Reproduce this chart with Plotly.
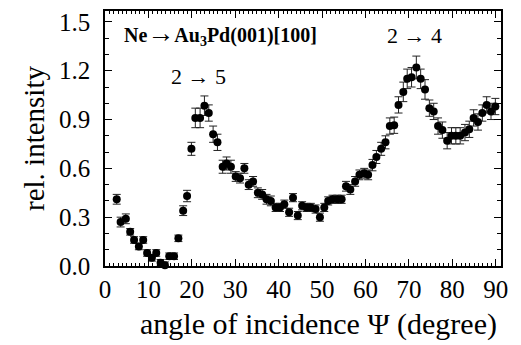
import plotly.graph_objects as go

# angle of incidence (degree)
angle = [2.7, 3.6, 4.8, 5.8, 6.7, 7.8, 8.8, 9.7, 10.8, 11.8, 12.8, 13.8, 14.8, 15.9, 16.9,
         18.0, 18.9, 19.9, 20.8, 21.9, 22.9, 23.9, 24.9, 25.9, 27.1, 28.0, 29.0, 30.1, 31.1,
         32.1, 33.1, 34.1, 35.2, 36.2, 37.2, 38.2, 39.3, 40.3, 41.3, 42.4, 43.3, 44.4, 45.4,
         46.4, 47.4, 48.5, 49.5, 50.5, 51.4, 52.4, 53.5, 54.5, 55.5, 56.5, 57.6, 58.6, 59.7,
         60.6, 61.6, 62.5, 63.6, 64.6, 65.6, 66.6, 67.6, 68.7, 69.6, 70.6, 71.7, 72.7, 73.7,
         74.7, 75.7, 76.7, 77.7, 78.8, 79.8, 80.8, 81.8, 82.9, 83.9, 84.9, 85.9, 86.9, 87.9,
         88.9, 89.9]

# relative intensity
intensity = [0.41, 0.27, 0.29, 0.21, 0.16, 0.12, 0.16, 0.08, 0.05, 0.08, 0.02, 0.005, 0.06, 0.06, 0.17,
             0.34, 0.43, 0.72, 0.91, 0.91, 0.985, 0.94, 0.81, 0.76, 0.61, 0.63, 0.61, 0.55, 0.54,
             0.60, 0.50, 0.52, 0.45, 0.44, 0.41, 0.40, 0.36, 0.36, 0.38, 0.33, 0.42, 0.31, 0.37,
             0.36, 0.36, 0.35, 0.30, 0.36, 0.40, 0.41, 0.41, 0.41, 0.49, 0.47, 0.52, 0.56, 0.57,
             0.56, 0.62, 0.67, 0.72, 0.76, 0.86, 0.865, 0.99, 1.07, 1.15, 1.16, 1.22, 1.15, 1.085,
             0.97, 0.95, 0.86, 0.835, 0.77, 0.80, 0.80, 0.80, 0.82, 0.84, 0.91, 0.885, 0.94, 0.99,
             0.95, 0.98]

# error bars
error = [0.03, 0.03, 0.03, 0.02, 0.02, 0.02, 0.02, 0.02, 0.02, 0.02, 0.02, 0.02, 0.02, 0.02, 0.02,
         0.03, 0.035, 0.04, 0.06, 0.06, 0.06, 0.05, 0.05, 0.05, 0.04, 0.04, 0.04, 0.03, 0.03,
         0.03, 0.03, 0.03, 0.03, 0.03, 0.03, 0.03, 0.025, 0.025, 0.025, 0.025, 0.025, 0.025, 0.025,
         0.025, 0.025, 0.025, 0.025, 0.025, 0.025, 0.025, 0.025, 0.025, 0.03, 0.03, 0.03, 0.03, 0.03,
         0.03, 0.035, 0.04, 0.04, 0.04, 0.05, 0.05, 0.05, 0.06, 0.06, 0.06, 0.07, 0.06, 0.06,
         0.05, 0.05, 0.05, 0.05, 0.05, 0.05, 0.05, 0.05, 0.05, 0.05, 0.05, 0.05, 0.05, 0.05,
         0.05, 0.05]

x_ticks = [0, 10, 20, 30, 40, 50, 60, 70, 80, 90]
y_ticks = [0.0, 0.3, 0.6, 0.9, 1.2, 1.5]
y_tick_text = ["0.0", "0.3", "0.6", "0.9", "1.2", "1.5"]

serif = "Liberation Serif"

fig = go.Figure()
fig.add_trace(go.Scatter(
    x=angle, y=intensity, mode="markers",
    marker=dict(color="black", size=8),
    error_y=dict(type="data", array=error, visible=True, color="#222222",
                 thickness=1, width=4),
    showlegend=False, cliponaxis=False,
))

axis_common = dict(
    showline=True, linecolor="black", linewidth=1.5, mirror="ticks",
    ticks="inside", ticklen=7, tickwidth=1, tickcolor="black",
    showgrid=False, zeroline=False,
    tickfont=dict(family=serif, size=25, color="black"),
)

fig.update_xaxes(
    range=[0, 91.2], tickvals=x_ticks, ticklabelstandoff=0,
    minor=dict(dtick=1, ticks="inside", ticklen=3, tickcolor="black"),
    **axis_common,
)
fig.update_yaxes(
    range=[0, 1.567], tickvals=y_ticks, ticktext=y_tick_text, ticklabelstandoff=8,
    minor=dict(dtick=0.1, ticks="inside", ticklen=4, tickcolor="black"),
    title=dict(text="rel. intensity", font=dict(family=serif, size=29, color="black"),
               standoff=6),
    **axis_common,
)

# x-axis title (placed as an annotation so it can sit right of centre like the original)
fig.add_annotation(x=0.538, y=-0.228, xref="paper", yref="paper", xanchor="center", yanchor="middle",
                   text="angle of incidence Ψ (degree)", showarrow=False,
                   font=dict(family=serif, size=30, color="black"))

fig.add_annotation(x=3.8, y=1.43, xref="x", yref="y", xanchor="left", yanchor="middle",
                   text="<b>Ne</b><span style='font-size:27px'>→</span><b>Au<sub>3</sub>Pd(001)[100]</b>",
                   showarrow=False,
                   font=dict(family=serif, size=20, color="black"))
fig.add_annotation(x=21.5, y=1.165, xref="x", yref="y", xanchor="center", yanchor="middle",
                   text="2 → 5", showarrow=False,
                   font=dict(family=serif, size=22, color="black"))
fig.add_annotation(x=71.25, y=1.417, xref="x", yref="y", xanchor="center", yanchor="middle",
                   text="2 → 4", showarrow=False,
                   font=dict(family=serif, size=22, color="black"))

# the page body adds an 8 px offset; margins compensate so the plot area matches
fig.update_layout(
    width=521, height=345,
    margin=dict(l=97, r=28, t=1, b=87),
    paper_bgcolor="white", plot_bgcolor="white",
)

fig.write_html("out.html")
